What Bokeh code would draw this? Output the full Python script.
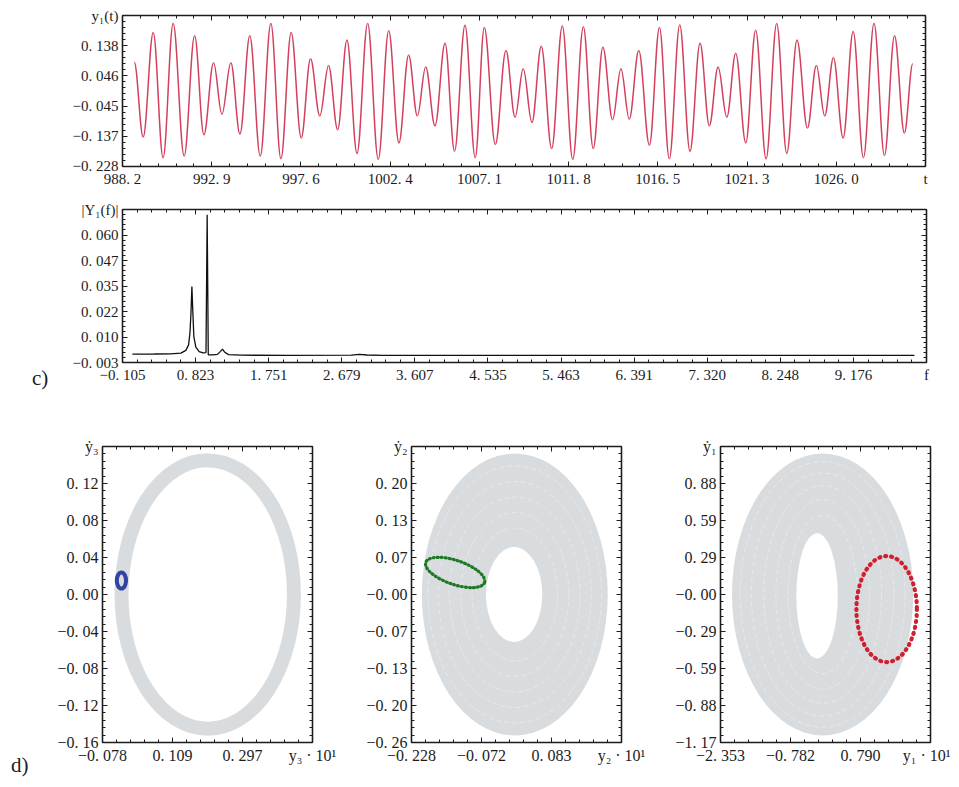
from bokeh.plotting import figure
from bokeh.models import Range1d, FixedTicker, LinearAxis, Div
from bokeh.layouts import column, row
from bokeh.embed import file_html
from bokeh.resources import INLINE

# ---------------- data ----------------
# c) time series y1(t): successive extrema (time, value)
t_ext = [988.82, 989.29, 989.82, 990.34, 990.87, 991.45, 992.00, 992.49, 993.00, 993.44,
         993.91, 994.39, 994.91, 995.46, 996.02, 996.55, 997.09, 997.62, 998.11, 998.60,
         999.06, 999.54, 1000.03, 1000.56, 1001.12, 1001.68, 1002.23, 1002.77, 1003.28, 1003.74,
         1004.18, 1004.67, 1005.20, 1005.70, 1006.25, 1006.79,
         1007.27, 1007.85, 1008.41, 1008.89, 1009.32, 1009.78, 1010.27, 1010.82, 1011.38, 1011.93,
         1012.49, 1013.01, 1013.52, 1014.03, 1014.47, 1014.91, 1015.41, 1015.97, 1016.50, 1017.02,
         1017.57, 1018.11, 1018.64, 1019.13, 1019.59, 1020.05, 1020.52, 1021.05, 1021.57, 1022.12,
         1022.68, 1023.21, 1023.75, 1024.30, 1024.77, 1025.21, 1025.67, 1026.18, 1026.71, 1027.25,
         1027.81, 1028.36, 1028.89, 1029.41, 1029.85]
y_ext = [0.088, -0.139, 0.178, -0.202, 0.205, -0.197, 0.168, -0.132, 0.086, -0.070,
         0.086, -0.130, 0.168, -0.197, 0.205, -0.205, 0.178, -0.142, 0.098, -0.075,
         0.078, -0.117, 0.155, -0.189, 0.205, -0.207, 0.183, -0.157, 0.110, -0.075,
         0.073, -0.105, 0.145, -0.182, 0.200, -0.202,
         0.193, -0.162, 0.123, -0.079, 0.068, -0.095, 0.136, -0.174, 0.198, -0.207,
         0.195, -0.174, 0.133, -0.087, 0.068, -0.085, 0.123, -0.164, 0.193, -0.205,
         0.201, -0.182, 0.145, -0.105, 0.073, -0.079, 0.115, -0.157, 0.185, -0.205,
         0.205, -0.189, 0.155, -0.112, 0.078, -0.075, 0.101, -0.142, 0.181, -0.202,
         0.205, -0.195, 0.168, -0.127, 0.083]

t_ticks_labels = ["988. 2", "992. 9", "997. 6", "1002. 4", "1007. 1", "1011. 8",
                  "1016. 5", "1021. 3", "1026. 0", "t"]
y1_tick_labels = ["\u22120. 228", "\u22120. 137", "\u22120. 045", "0. 046", "0. 138",
                  "y\u2081(t)"]

# spectrum |Y1(f)|
fft_f = [0.02, 0.30, 0.50, 0.636, 0.700, 0.734, 0.751, 0.764, 0.776, 0.789, 0.801, 0.826,
         0.868, 0.919, 0.955, 0.970, 0.984, 1.04, 1.10, 1.14, 1.164, 1.19, 1.24, 1.40,
         2.00, 2.80, 2.90, 3.00, 3.20, 5.00, 7.00, 9.95]
fft_a = [0.0011, 0.0012, 0.0013, 0.0016, 0.0030, 0.0057, 0.0115, 0.0210, 0.0345, 0.0210,
         0.0098, 0.0046, 0.0024, 0.0017, 0.0019, 0.0699, 0.0008, 0.0008, 0.0010, 0.0025,
         0.0036, 0.0022, 0.0009, 0.0006, 0.0005, 0.0006, 0.0010, 0.0007, 0.0005, 0.0005,
         0.0005, 0.0005]
f_tick_labels = ["\u22120. 105", "0. 823", "1. 751", "2. 679", "3. 607", "4. 535", "5. 463",
                 "6. 391", "7. 320", "8. 248", "9. 176", "f"]
a_tick_labels = ["\u22120. 003", "0. 010", "0. 022", "0. 035", "0. 047", "0. 060",
                 "|Y\u2081(f)|"]

# d) phase portraits: (center x, center y, width, height)
ring_a = (0.204, 0.0, 0.462, 0.290)          # grey band (y3*10, dy3)
orbit_a = (-0.0273, 0.0151, 0.0248, 0.0173)  # blue orbit
ring_b_outer = (0.0015, 0.0, 0.413, 0.499)
ring_b_hole = (0.0, 0.0, 0.125, 0.168)
ring_b_tex_w = [0.19, 0.24, 0.29, 0.34, 0.385]
ring_b_tex_h = [0.235, 0.29, 0.345, 0.40, 0.455]
orbit_b = (-0.131, 0.039, 0.138, 0.0425, -0.33)  # green orbit, with tilt
ring_c_outer = (-0.06, 0.0, 4.07, 2.23)
ring_c_hole = (-0.185, -0.01, 0.93, 0.99)
ring_c_tex_w = [1.55, 2.1, 2.65, 3.2, 3.7]
ring_c_tex_h = [1.25, 1.5, 1.72, 1.92, 2.1]
orbit_c = (1.377, -0.115, 1.358, 0.838)       # red orbit

xa_labels = ["\u22120. 078", "0. 109", "0. 297", "y\u2083 \u00b7 10\u00b9"]
ya_labels = ["\u22120. 16", "\u22120. 12", "\u22120. 08", "\u22120. 04", "0. 00",
             "0. 04", "0. 08", "0. 12", "\u1e8f\u2083"]
xb_labels = ["\u22120. 228", "\u22120. 072", "0. 083", "y\u2082 \u00b7 10\u00b9"]
yb_labels = ["\u22120. 26", "\u22120. 20", "\u22120. 13", "\u22120. 07", "\u22120. 00",
             "0. 07", "0. 13", "0. 20", "\u1e8f\u2082"]
xc_labels = ["\u22122. 353", "\u22120. 782", "0. 790", "y\u2081 \u00b7 10\u00b9"]
yc_labels = ["\u22121. 17", "\u22120. 88", "\u22120. 59", "\u22120. 29", "\u22120. 00",
             "0. 29", "0. 59", "0. 88", "\u1e8f\u2081"]

# ---------------- styling helpers ----------------
SERIF = "Liberation Serif"
INK = "#1c1c1c"


def ticks_from(start, step, n):
    return [round(start + k * step, 6) for k in range(n)]


def minors(ticks, nsub):
    out = []
    for a, b in zip(ticks[:-1], ticks[1:]):
        for j in range(1, nsub):
            out.append(a + (b - a) * j / nsub)
    return out


def make_fig(fw, fh, xr, yr, left, right, top, bottom):
    p = figure(frame_width=fw, frame_height=fh, x_range=Range1d(*xr), y_range=Range1d(*yr),
               output_backend="svg", toolbar_location=None,
               min_border_left=left, min_border_right=right,
               min_border_top=top, min_border_bottom=bottom)
    p.grid.visible = False
    p.outline_line_color = INK
    p.outline_line_width = 1.4
    p.background_fill_color = "white"
    p.border_fill_color = "white"
    return p


def style_axis(ax, ticks, labels, nsub, fs, show=True):
    ax.ticker = FixedTicker(ticks=ticks, minor_ticks=minors(ticks, nsub))
    ax.major_tick_in = 5
    ax.major_tick_out = 0
    ax.minor_tick_in = 3
    ax.minor_tick_out = 0
    ax.major_tick_line_color = INK
    ax.minor_tick_line_color = INK
    ax.axis_line_color = INK
    ax.axis_line_width = 1.2
    if show:
        ax.major_label_overrides = {t: l for t, l in zip(ticks, labels)}
        ax.major_label_text_font = SERIF
        ax.major_label_text_font_size = fs
        ax.major_label_text_color = INK
        ax.major_label_standoff = 4
    else:
        ax.major_label_overrides = {t: "" for t in ticks}
        ax.major_label_text_font_size = "1px"
        ax.major_label_standoff = 0


def setup_axes(p, xt, xl, yt, yl, nsub, fs):
    style_axis(p.xaxis[0], xt, xl, nsub, fs)
    style_axis(p.yaxis[0], yt, yl, nsub, fs)
    top = LinearAxis()
    style_axis(top, xt, xl, nsub, fs, show=False)
    p.add_layout(top, "above")
    right = LinearAxis()
    style_axis(right, yt, yl, nsub, fs, show=False)
    p.add_layout(right, "right")


def panel_letter(letter, w, h, left, top):
    html = ('<div style="position:relative; left:%dpx; top:%dpx; '
            'font-family:\'Liberation Serif\'; font-size:21px; line-height:21px; '
            'color:%s;">%s</div>' % (left, top, INK, letter))
    return Div(text=html, width=w, height=h, margin=0)


# ---------------- c) top: y1(t) ----------------
t_t = ticks_from(988.2, 4.7025, 10)
y1_t = ticks_from(-0.228, 0.0915, 6)
xr1 = (t_t[0], t_t[-1])
yr1 = (-0.2285, y1_t[-1])
p1 = make_fig(803, 151, xr1, yr1, 122, 25, 15, 25)
setup_axes(p1, t_t, t_ticks_labels, y1_t, y1_tick_labels, 5, "15px")

x0, y0, x1, y1, cx0, cy0, cx1, cy1 = ([] for _ in range(8))
for i in range(len(t_ext) - 1):
    ta, tb = t_ext[i], t_ext[i + 1]
    va, vb = y_ext[i], y_ext[i + 1]
    d = (tb - ta) * 0.364
    x0.append(ta); y0.append(va); x1.append(tb); y1.append(vb)
    cx0.append(ta + d); cy0.append(va); cx1.append(tb - d); cy1.append(vb)
p1.bezier(x0=x0, y0=y0, x1=x1, y1=y1, cx0=cx0, cy0=cy0, cx1=cx1, cy1=cy1,
          line_color="#d3405c", line_width=1.5)

# ---------------- c) bottom: |Y1(f)| ----------------
f_t = ticks_from(-0.105, 0.928, 12)
a_t = ticks_from(-0.003, 0.012583, 7)
xr2 = (f_t[0], f_t[-1])
yr2 = (a_t[0], a_t[-1])
p2 = make_fig(804, 153, xr2, yr2, 65, 25, 18, 30)
setup_axes(p2, f_t, f_tick_labels, a_t, a_tick_labels, 5, "15px")
p2.line(fft_f, fft_a, line_color="#111111", line_width=1.3)
div_c = panel_letter("c)", 57, 201, 32, 177)

# ---------------- d) phase portraits ----------------
GREY = "#d9dcdf"

# panel A
xa_t = ticks_from(-0.078, 0.1876, 4)
ya_t = ticks_from(-0.16, 0.04, 9)
xra, yra = (xa_t[0], xa_t[-1]), (ya_t[0], ya_t[-1])
pa = make_fig(210, 296, xra, yra, 62, 30, 54, 36)
setup_axes(pa, xa_t, xa_labels, ya_t, ya_labels, 5, "16px")
pa.ellipse(x=[ring_a[0]], y=[ring_a[1]], width=[ring_a[2]], height=[ring_a[3]],
           fill_color=None, line_color=GREY, line_width=14)
pa.ellipse(x=[orbit_a[0]], y=[orbit_a[1]], width=[orbit_a[2]], height=[orbit_a[3]],
           fill_color=None, line_color="#3343a3", line_width=4)
div_d = panel_letter("d)", 40, 386, 11, 363)

# panel B
xb_t = ticks_from(-0.228, 0.1555, 4)
yb_t = ticks_from(-0.262, 0.0655, 9)
xrb, yrb = (xb_t[0], xb_t[-1]), (yb_t[0], yb_t[-1])
pb = make_fig(210, 296, xrb, yrb, 69, 30, 54, 36)
setup_axes(pb, xb_t, xb_labels, yb_t, yb_labels, 5, "16px")
pb.ellipse(x=[ring_b_outer[0]], y=[ring_b_outer[1]], width=[ring_b_outer[2]],
           height=[ring_b_outer[3]], fill_color=GREY, line_color=None)
pb.ellipse(x=[ring_b_outer[0]] * len(ring_b_tex_w), y=[ring_b_outer[1]] * len(ring_b_tex_w),
           width=ring_b_tex_w, height=ring_b_tex_h, fill_color=None,
           line_color="white", line_alpha=0.35, line_width=1.0, line_dash="5 3")
pb.ellipse(x=[ring_b_hole[0]], y=[ring_b_hole[1]], width=[ring_b_hole[2]],
           height=[ring_b_hole[3]], fill_color="white", line_color=None)
pb.ellipse(x=[orbit_b[0]], y=[orbit_b[1]], width=[orbit_b[2]], height=[orbit_b[3]],
           angle=orbit_b[4], fill_color=None, line_color="#1d7a22", line_width=3.2,
           line_dash="1 3", line_cap="round")

# panel C
xc_t = ticks_from(-2.353, 1.5715, 4)
yc_t = ticks_from(-1.17, 0.2925, 9)
xrc, yrc = (xc_t[0], xc_t[-1]), (yc_t[0], yc_t[-1])
pc = make_fig(210, 296, xrc, yrc, 69, 20, 54, 36)
setup_axes(pc, xc_t, xc_labels, yc_t, yc_labels, 5, "16px")
pc.ellipse(x=[ring_c_outer[0]], y=[ring_c_outer[1]], width=[ring_c_outer[2]],
           height=[ring_c_outer[3]], fill_color=GREY, line_color=None)
pc.ellipse(x=[ring_c_outer[0]] * len(ring_c_tex_w), y=[ring_c_outer[1]] * len(ring_c_tex_w),
           width=ring_c_tex_w, height=ring_c_tex_h, fill_color=None,
           line_color="white", line_alpha=0.35, line_width=1.0, line_dash="5 3")
pc.ellipse(x=[ring_c_hole[0]], y=[ring_c_hole[1]], width=[ring_c_hole[2]],
           height=[ring_c_hole[3]], fill_color="white", line_color=None)
pc.ellipse(x=[orbit_c[0]], y=[orbit_c[1]], width=[orbit_c[2]], height=[orbit_c[3]],
           fill_color=None, line_color="#d21f2f", line_width=4.2,
           line_dash="1 5", line_cap="round")

layout = column(p1, row(div_c, p2), row(div_d, pa, pb, pc))
open("out.html", "w").write(file_html(layout, INLINE))
